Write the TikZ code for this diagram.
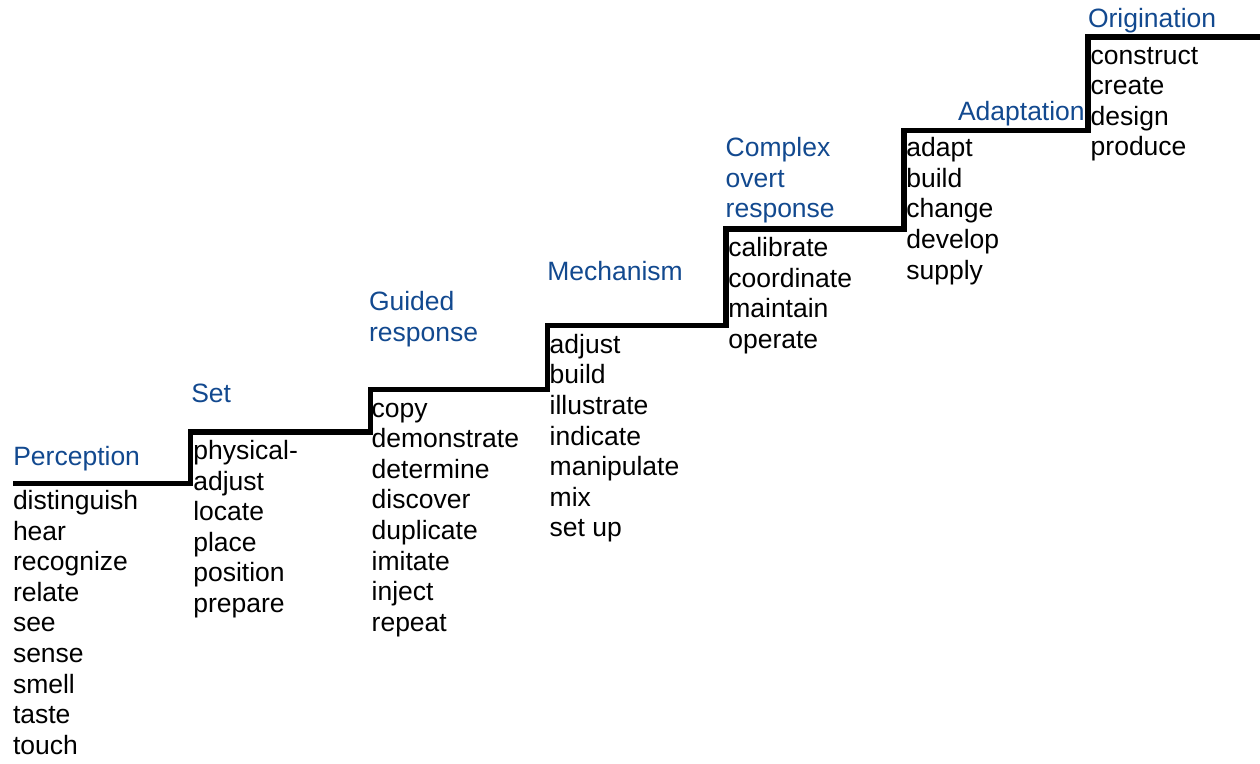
\documentclass[tikz,border=0pt]{standalone}
\usepackage{fontspec}
\setmainfont{Liberation Sans}
\definecolor{stepblue}{RGB}{18,73,143}
\newcommand{\wordlist}[1]{\begin{tabular}[t]{@{}l@{}}#1\end{tabular}}
\begin{document}
\begin{tikzpicture}[x=1pt,y=-1pt,
  txt/.style={inner sep=0pt,outer sep=0pt,anchor=base west,
    font=\fontsize{26.5}{30.6}\selectfont},
  lvl/.style={txt,text=stepblue},
  verbs/.style={txt,text=black},
  stair/.style={line width=5.3pt,line join=miter,draw=black}]
\useasboundingbox (0,0) rectangle (1260,763);
% staircase corners
\coordinate (s0) at (13,483.5);
\coordinate (s1) at (190.5,483.5);
\coordinate (s2) at (190.5,432);
\coordinate (s3) at (370.5,432);
\coordinate (s4) at (370.5,389.5);
\coordinate (s5) at (547.5,389.5);
\coordinate (s6) at (547.5,325.5);
\coordinate (s7) at (726,325.5);
\coordinate (s8) at (726,229);
\coordinate (s9) at (904,229);
\coordinate (s10) at (904,130.3);
\coordinate (s11) at (1088,130.3);
\coordinate (s12) at (1088,37);
\coordinate (s13) at (1262,37);
\draw[stair] (s0) -- (s1) -- (s2) -- (s3) -- (s4) -- (s5) -- (s6) -- (s7)
  -- (s8) -- (s9) -- (s10) -- (s11) -- (s12) -- (s13);
% level labels
\node[lvl] (perc) at (13.3,465) {Perception};
\node[lvl] (set) at (191.3,402.7) {Set};
\node[lvl] (guid) at (369,310.7) {\wordlist{Guided\\response}};
\node[lvl] (mech) at (547.3,280) {Mechanism};
\node[lvl] (comp) at (725.7,156.7) {\wordlist{Complex\\overt\\response}};
\node[lvl] (adap) at (958,120) {Adaptation};
\node[lvl] (orig) at (1088,27.3) {Origination};
% verb lists
\node[verbs] (percl) at (13,509.5) {\wordlist{distinguish\\hear\\recognize\\relate\\see\\sense\\smell\\taste\\touch}};
\node[verbs] (setl) at (193.3,459.5) {\wordlist{physical-\\adjust\\locate\\place\\position\\prepare}};
\node[verbs] (guidl) at (371.7,417) {\wordlist{copy\\demonstrate\\determine\\discover\\duplicate\\imitate\\inject\\repeat}};
\node[verbs] (mechl) at (549.7,353.3) {\wordlist{adjust\\build\\illustrate\\indicate\\manipulate\\mix\\set up}};
\node[verbs] (compl) at (728.3,256.7) {\wordlist{calibrate\\coordinate\\maintain\\operate}};
\node[verbs] (adapl) at (906.3,156.7) {\wordlist{adapt\\build\\change\\develop\\supply}};
\node[verbs] (origl) at (1090.7,64) {\wordlist{construct\\create\\design\\produce}};
\end{tikzpicture}
\end{document}
